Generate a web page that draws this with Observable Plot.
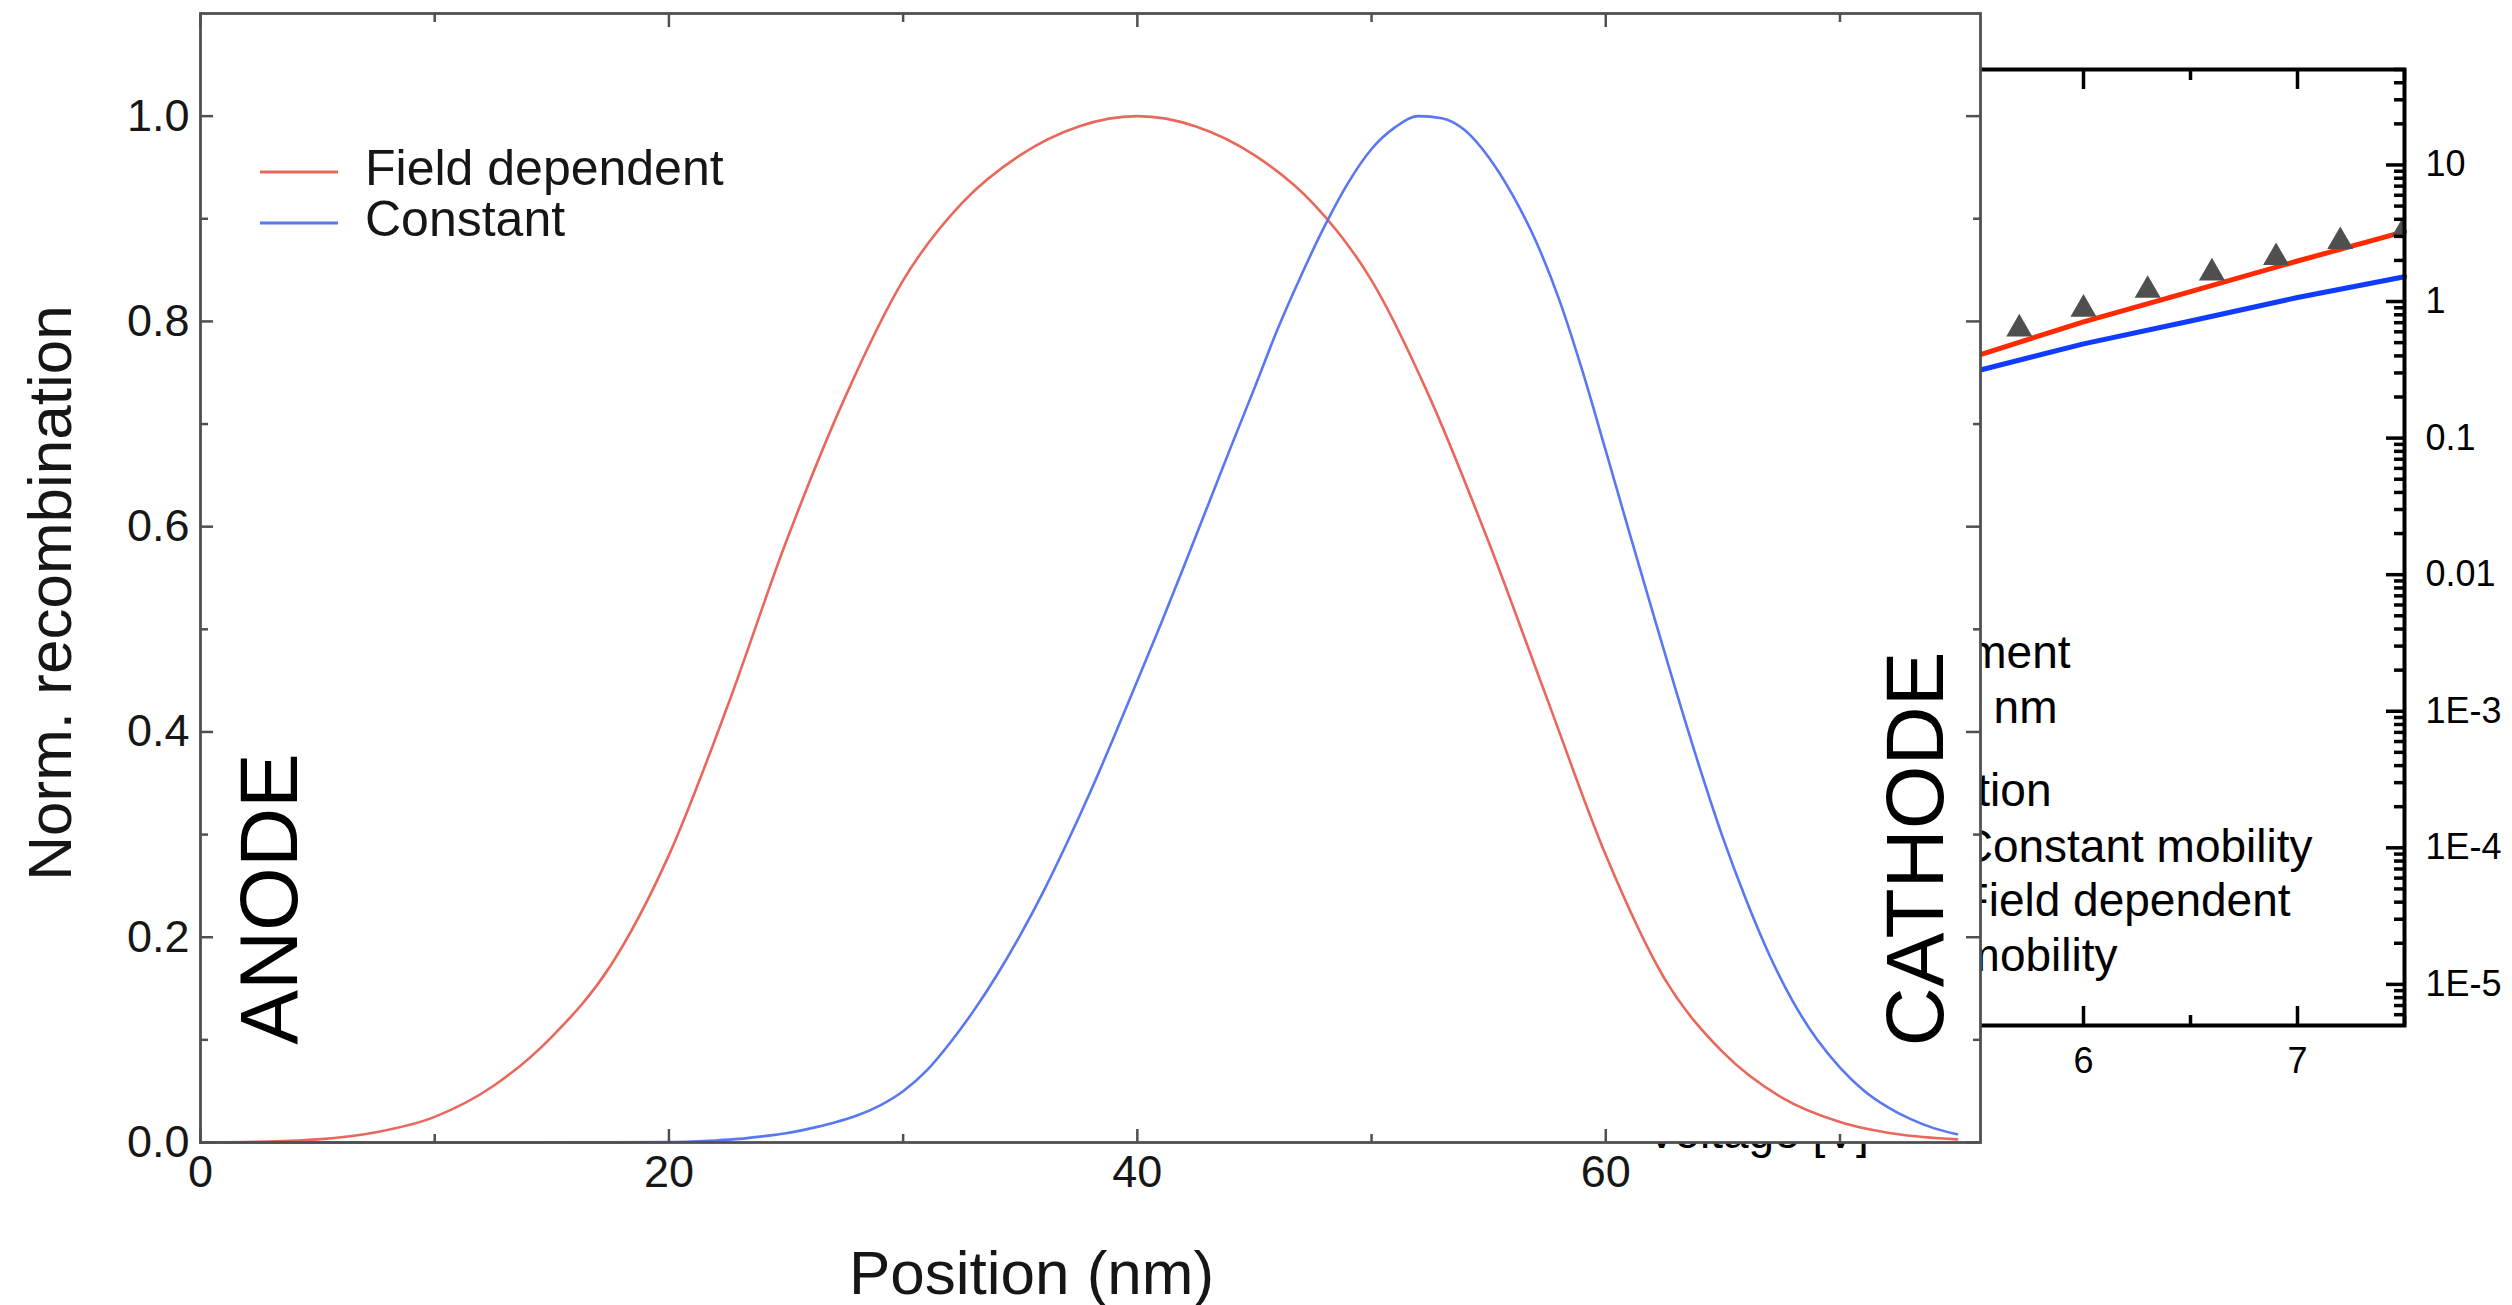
<!DOCTYPE html>
<html>
<head>
<meta charset="utf-8">
<script src="https://cdn.jsdelivr.net/npm/d3@7"></script>
<script src="https://cdn.jsdelivr.net/npm/@observablehq/plot@0.6"></script>
<style>
html, body { margin: 0; padding: 0; background: #fff; }
#wrap { position: relative; width: 2512px; height: 1305px; overflow: hidden; font-family: "Liberation Sans", Arial, sans-serif; }
#wrap > div, #wrap > svg { position: absolute; left: 0; top: 0; }
#wrap svg { max-width: none; }
#main svg, #back svg { background: transparent !important; }
</style>
</head>
<body>
<div id="wrap"><div id="back"></div><div id="main"></div></div>
<script>
// ---------- Main chart data: normalised recombination profile ----------
const seriesNames = ["Field dependent", "Constant"];
const seriesColors = ["#e9685b", "#5878f2"];

const redPosition = [0, 2.5, 5, 7.5, 10, 12.5, 15, 17.5, 20, 22.5, 25, 27.5, 30, 32.5, 35, 37.5, 40, 42.5, 45, 47.5, 50, 52.5, 55, 57.5, 60, 62.5, 65, 67.5, 70, 72.5, 75];
const redRecombination = [0.0001, 0.0008, 0.003, 0.010, 0.025, 0.055, 0.103, 0.172, 0.280, 0.425, 0.585, 0.725, 0.840, 0.915, 0.962, 0.990, 1.000, 0.990, 0.962, 0.915, 0.840, 0.725, 0.585, 0.432, 0.280, 0.160, 0.088, 0.044, 0.020, 0.008, 0.003];

const bluePosition = [0, 10, 17.5, 20, 21, 22, 23, 24, 25, 26, 27, 28, 29, 30, 31, 32, 33, 34, 35, 36, 37, 38, 39, 40, 41, 42, 43, 44, 45, 46, 47, 48, 49, 50, 51, 52, 53, 54, 55, 56, 57, 58, 59, 60, 61, 62, 63, 64, 65, 66, 67, 68, 69, 70, 71, 72, 73, 74, 75];
const blueRecombination = [0, 0, 0.0001, 0.0005, 0.001, 0.002, 0.0035, 0.006, 0.009, 0.0135, 0.019, 0.026, 0.036, 0.050, 0.070, 0.097, 0.128, 0.163, 0.202, 0.245, 0.292, 0.342, 0.395, 0.450, 0.505, 0.562, 0.620, 0.678, 0.735, 0.793, 0.845, 0.893, 0.935, 0.968, 0.989, 1.000, 0.998, 0.986, 0.960, 0.924, 0.879, 0.822, 0.752, 0.674, 0.595, 0.517, 0.440, 0.366, 0.297, 0.236, 0.182, 0.137, 0.101, 0.073, 0.051, 0.035, 0.023, 0.014, 0.008];

const xMajorTicks = [0, 20, 40, 60];
const xMinorTicks = [10, 30, 50, 70];
const yMajorTicks = [0, 0.2, 0.4, 0.6, 0.8, 1.0];
const yMinorTicks = [0.1, 0.3, 0.5, 0.7, 0.9];

// ---------- Background chart data (partly hidden): current vs voltage ----------
const simVoltage = [5.5, 6.0, 6.5, 7.0, 7.5];
const simFieldDependent = [0.40, 0.71, 1.18, 1.98, 3.25];
const simConstant = [0.31, 0.49, 0.72, 1.07, 1.52];
const expVoltage = [5.7, 6.0, 6.3, 6.6, 6.9, 7.2, 7.5];
const expValue = [0.63, 0.88, 1.21, 1.62, 2.10, 2.75, 3.37];
const vMajorTicks = [2, 3, 4, 5, 6, 7];
const vMinorTicks = [2.5, 3.5, 4.5, 5.5, 6.5, 7.5];
const logTickValues = [1e-5, 1e-4, 1e-3, 1e-2, 1e-1, 1, 10];
const logTickLabels = ["1E-5", "1E-4", "1E-3", "0.01", "0.1", "1", "10"];
const backLegend = ["Experiment", "L = 70 nm", "Simulation", "Constant mobility", "Field dependent", "mobility"];

const FONT = "Liberation Sans, Arial, Helvetica, sans-serif";

// ---------- background chart ----------
const logMinor = [];
for (let e = -6; e <= 1; e++) for (let m = 2; m <= 9; m++) {
  const v = m * Math.pow(10, e);
  if (v >= 5e-6 && v <= 50) logMinor.push(v);
}
const simRed = simVoltage.map((v, i) => ({v, j: simFieldDependent[i]}));
const simBlue = simVoltage.map((v, i) => ({v, j: simConstant[i]}));
const exp = expVoltage.map((v, i) => ({v, j: expValue[i]}));

const back = Plot.plot({
  width: 2512, height: 1305,
  marginLeft: 1120, marginRight: 108, marginTop: 69, marginBottom: 280,
  style: {background: "transparent", fontFamily: FONT, color: "#000"},
  x: {domain: [1.5, 7.5]},
  y: {type: "log", domain: [5e-6, 50]},
  marks: [
    Plot.line(simRed, {x: "v", y: "j", stroke: "#ff2a00", strokeWidth: 5}),
    Plot.line(simBlue, {x: "v", y: "j", stroke: "#0f3cff", strokeWidth: 5}),
    Plot.dot(exp, {x: "v", y: "j", symbol: "triangle", r: 9.7, fill: "#4f4f4f", clip: true}),
    Plot.frame({stroke: "#000", strokeWidth: 4}),
    Plot.axisY({anchor: "right", ticks: logTickValues, tickFormat: (d) => logTickLabels[logTickValues.indexOf(d)], tickSize: -19, tickPadding: 40, strokeWidth: 3.5, fontSize: 36, label: null}),
    Plot.axisY({anchor: "right", ticks: logMinor, tickFormat: () => "", tickSize: -11, strokeWidth: 3.5, label: null}),
    Plot.axisX({anchor: "bottom", ticks: vMajorTicks, tickFormat: d3.format("d"), tickSize: -19, tickPadding: 41, strokeWidth: 3.5, fontSize: 36, label: null}),
    Plot.axisX({anchor: "bottom", ticks: vMinorTicks, tickFormat: () => "", tickSize: -10, strokeWidth: 3.5, label: null}),
    Plot.axisX({anchor: "top", ticks: vMajorTicks, tickFormat: () => "", tickSize: -19, strokeWidth: 3.5, label: null}),
    Plot.axisX({anchor: "top", ticks: vMinorTicks, tickFormat: () => "", tickSize: -10, strokeWidth: 3.5, label: null}),
    Plot.text(["Voltage [V]"], {frameAnchor: "bottom", dx: -5, dy: 122, lineAnchor: "bottom", textAnchor: "middle", fontSize: 46, fill: "#000"}),
    // legend of the background chart (only its right part shows)
    Plot.text([backLegend[0]], {frameAnchor: "top-left", dx: 950, dy: 598, textAnchor: "end", lineAnchor: "bottom", fontSize: 46, fill: "#000"}),
    Plot.text([backLegend[1]], {frameAnchor: "top-left", dx: 937, dy: 653, textAnchor: "end", lineAnchor: "bottom", fontSize: 46, fill: "#000"}),
    Plot.text([backLegend[2]], {frameAnchor: "top-left", dx: 931, dy: 736, textAnchor: "end", lineAnchor: "bottom", fontSize: 46, fill: "#000"}),
    Plot.text([backLegend[3]], {frameAnchor: "top-left", dx: 1192, dy: 792, textAnchor: "end", lineAnchor: "bottom", fontSize: 46, fill: "#000"}),
    Plot.text([backLegend[4]], {frameAnchor: "top-left", dx: 1170, dy: 846, textAnchor: "end", lineAnchor: "bottom", fontSize: 46, fill: "#000"}),
    Plot.text([backLegend[5]], {frameAnchor: "top-left", dx: 997, dy: 901, textAnchor: "end", lineAnchor: "bottom", fontSize: 46, fill: "#000"})
  ]
});
document.getElementById("back").appendChild(back);

// ---------- main chart ----------
const red = redPosition.map((x, i) => ({x, r: redRecombination[i]}));
const blue = bluePosition.map((x, i) => ({x, r: blueRecombination[i]}));
const AX = "#505050";
const TXT = "#161616";

const main = Plot.plot({
  width: 2512, height: 1305,
  marginLeft: 200, marginRight: 532, marginTop: 13, marginBottom: 163,
  style: {background: "transparent", fontFamily: FONT, color: TXT},
  x: {domain: [0, 76]},
  y: {domain: [0, 1.1]},
  marks: [
    Plot.frame({fill: "#fff", stroke: "none"}),
    Plot.line(red, {x: "x", y: "r", stroke: seriesColors[0], strokeWidth: 2.6, curve: "monotone-x"}),
    Plot.line(blue, {x: "x", y: "r", stroke: seriesColors[1], strokeWidth: 2.6, curve: "monotone-x"}),
    Plot.axisY({anchor: "left", ticks: yMajorTicks, tickFormat: d3.format(".1f"), tickSize: -13, tickPadding: 24, stroke: AX, strokeWidth: 2.5, fill: TXT, fontSize: 45, label: null}),
    Plot.axisY({anchor: "left", ticks: yMinorTicks, tickFormat: () => "", tickSize: -8, stroke: AX, strokeWidth: 2.5, label: null}),
    Plot.axisY({anchor: "right", ticks: yMajorTicks, tickFormat: () => "", tickSize: -15, stroke: AX, strokeWidth: 2.5, label: null}),
    Plot.axisY({anchor: "right", ticks: yMinorTicks, tickFormat: () => "", tickSize: -8, stroke: AX, strokeWidth: 2.5, label: null}),
    Plot.axisX({anchor: "bottom", ticks: xMajorTicks, tickFormat: d3.format("d"), tickSize: -13, tickPadding: 26, stroke: AX, strokeWidth: 2.5, fill: TXT, fontSize: 45, label: null}),
    Plot.axisX({anchor: "bottom", ticks: xMinorTicks, tickFormat: () => "", tickSize: -8, stroke: AX, strokeWidth: 2.5, label: null}),
    Plot.axisX({anchor: "top", ticks: xMajorTicks, tickFormat: () => "", tickSize: -13, stroke: AX, strokeWidth: 2.5, label: null}),
    Plot.axisX({anchor: "top", ticks: xMinorTicks, tickFormat: () => "", tickSize: -8, stroke: AX, strokeWidth: 2.5, label: null}),
    Plot.frame({stroke: AX, strokeWidth: 2.8}),
    Plot.text(["Norm. recombination"], {frameAnchor: "left", dx: -130, dy: 15, rotate: -90, textAnchor: "middle", lineAnchor: "bottom", fontSize: 62, fill: TXT}),
    Plot.text(["Position (nm)"], {frameAnchor: "bottom", dx: -59, dy: 151, textAnchor: "middle", lineAnchor: "bottom", fontSize: 62, fill: TXT}),
    Plot.text(["ANODE"], {frameAnchor: "left", dx: 96, dy: 321, rotate: -90, textAnchor: "middle", lineAnchor: "bottom", fontSize: 82, fill: "#000"}),
    Plot.text(["CATHODE"], {frameAnchor: "right", dx: -38, dy: 271, rotate: -90, textAnchor: "middle", lineAnchor: "bottom", fontSize: 82, fill: "#000"})
  ]
});
document.getElementById("main").appendChild(main);

// ---------- legend of the main chart ----------
const leg = d3.select("#wrap").append("svg")
  .attr("width", 900).attr("height", 300)
  .style("position", "absolute").style("left", "0px").style("top", "0px");
const rows = seriesNames.map((name, i) => ({name, color: seriesColors[i], yLine: 172 + i * 51, yText: 185 + i * 51}));
leg.selectAll("line").data(rows).join("line")
  .attr("x1", 260).attr("x2", 338)
  .attr("y1", d => d.yLine).attr("y2", d => d.yLine)
  .attr("stroke", d => d.color).attr("stroke-width", 3.2);
leg.selectAll("text").data(rows).join("text")
  .attr("x", 365).attr("y", d => d.yText)
  .attr("font-family", FONT).attr("font-size", 50).attr("fill", TXT)
  .text(d => d.name);
</script>
</body>
</html>
